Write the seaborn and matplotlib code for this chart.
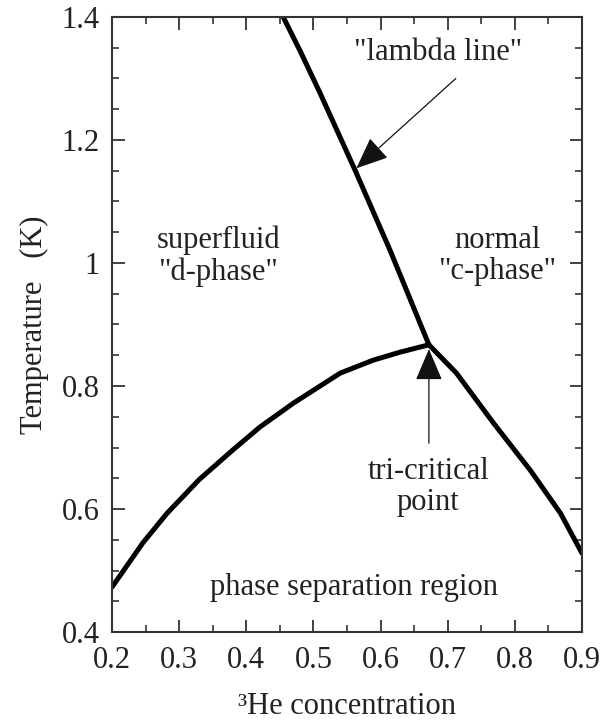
import numpy as np
import pandas as pd
import matplotlib
matplotlib.use("Agg")
import matplotlib.pyplot as plt
import seaborn as sns
from matplotlib.ticker import MultipleLocator

# Data
lambda_x = [0.455, 0.481, 0.510, 0.562, 0.614, 0.672]
lambda_y = [1.400, 1.343, 1.276, 1.151, 1.021, 0.867]

d_x = [0.200, 0.246, 0.282, 0.330, 0.380, 0.420, 0.470, 0.540, 0.589, 0.629, 0.672]
d_y = [0.473, 0.545, 0.593, 0.648, 0.696, 0.733, 0.772, 0.821, 0.842, 0.855, 0.867]

c_x = [0.672, 0.713, 0.768, 0.823, 0.868, 0.900]
c_y = [0.867, 0.821, 0.740, 0.663, 0.593, 0.528]

x_ticks = [0.2, 0.3, 0.4, 0.5, 0.6, 0.7, 0.8, 0.9]
x_tick_labels = ["0.2", "0.3", "0.4", "0.5", "0.6", "0.7", "0.8", "0.9"]
y_ticks = [0.4, 0.6, 0.8, 1.0, 1.2, 1.4]
y_tick_labels = ["0.4", "0.6", "0.8", "1", "1.2", "1.4"]

df = pd.concat([
    pd.DataFrame({"x": lambda_x, "y": lambda_y, "seg": "lambda"}),
    pd.DataFrame({"x": d_x, "y": d_y, "seg": "d"}),
    pd.DataFrame({"x": c_x, "y": c_y, "seg": "c"}),
], ignore_index=True)

sns.set_style("ticks")
plt.rcParams["font.family"] = ["Liberation Serif", "DejaVu Serif"]
fs = 22

fig = plt.figure(figsize=(6.02, 7.26), dpi=100)
ax = fig.add_axes([112/602, 1 - 632/726, 470/602, 615/726])

for seg in ["lambda", "d", "c"]:
    sub = df[df["seg"] == seg]
    sns.lineplot(data=sub, x="x", y="y", sort=False, color="black",
                 linewidth=3.6, ax=ax, legend=False,
                 solid_joinstyle="round", solid_capstyle="round")

ax.set_xlim(0.2, 0.9)
ax.set_ylim(0.4, 1.4)
ax.set_xticks(x_ticks)
ax.set_xticklabels(x_tick_labels)
ax.set_yticks(y_ticks)
ax.set_yticklabels(y_tick_labels)
ax.xaxis.set_minor_locator(MultipleLocator(0.05))
ax.yaxis.set_minor_locator(MultipleLocator(0.05))
ax.tick_params(which="both", direction="in", top=True, right=True,
               colors="#333333", labelcolor="#222222", labelsize=fs)
ax.tick_params(which="major", length=9, width=1.3)
ax.tick_params(axis="x", which="major", pad=10)
ax.tick_params(axis="y", which="major", pad=9)
ax.tick_params(which="minor", length=5, width=1.2)
for s in ax.spines.values():
    s.set_visible(True)
    s.set_linewidth(1.5)
    s.set_color("#333333")

ax.set_xlabel("³He concentration", fontsize=fs, color="#222222", labelpad=12)
ax.set_ylabel("Temperature   (K)", fontsize=fs, color="#222222", labelpad=9)

tc = "#222222"
ax.text(0.358, 1.011, "superfluid\n\"d-phase\"", ha="center", va="center",
        fontsize=fs, color=tc, linespacing=1.1)
ax.text(0.774, 1.011, "normal\n\"c-phase\"", ha="center", va="center",
        fontsize=fs, color=tc, linespacing=1.1)
ax.text(0.560, 0.473, "phase separation region", ha="center", va="center",
        fontsize=fs, color=tc)
ax.text(0.685, 1.343, "\"lambda line\"", ha="center", va="center",
        fontsize=fs, color=tc)
ax.text(0.671, 0.636, "tri-critical\npoint", ha="center", va="center",
        fontsize=fs, color=tc, linespacing=1.1)

arrow_kw = dict(arrowstyle="-|>,head_length=2.0,head_width=0.85",
                color="#111111", lw=0.9, shrinkA=0, shrinkB=0)
ax.annotate("", xy=(0.564, 1.154), xytext=(0.712, 1.300), arrowprops=arrow_kw)
ax.annotate("", xy=(0.672, 0.860), xytext=(0.672, 0.707), arrowprops=arrow_kw)

fig.savefig("out.png", dpi=100)
